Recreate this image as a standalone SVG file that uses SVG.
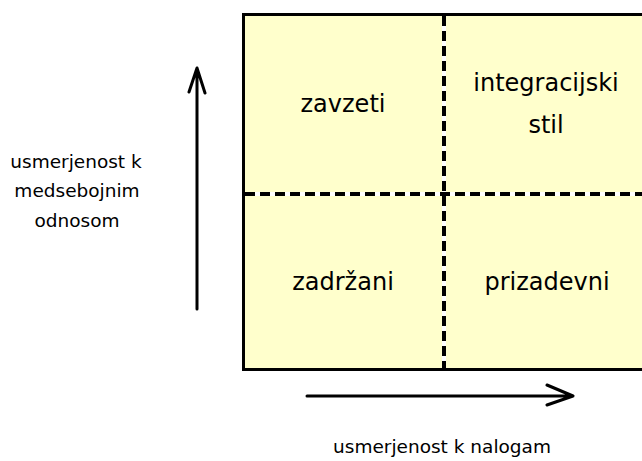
<svg xmlns="http://www.w3.org/2000/svg" width="642" height="461" viewBox="0 0 642 461">
  <style>
    .lbl { font-family: "DejaVu Sans", "Liberation Sans", sans-serif; fill: #000; text-anchor: middle; }
    .quad { font-size: 24px; }
    .side { font-size: 18.5px; }
    .axis { stroke: #000; stroke-width: 3; fill: none; stroke-linecap: round; stroke-linejoin: round; }
    .divider-bg { stroke: #fff; stroke-width: 4; }
    .divider { stroke: #000; stroke-width: 4; stroke-dasharray: 10 5; }
  </style>

  <rect width="642" height="461" fill="#fff"/>

  <!-- quadrant grid -->
  <g id="grid">
    <rect x="243.5" y="14.5" width="420" height="355" fill="#ffffcc" stroke="#000" stroke-width="3"/>
    <line class="divider-bg" x1="444" y1="16" x2="444" y2="368"/>
    <line class="divider-bg" x1="245" y1="194" x2="642" y2="194"/>
    <line class="divider" x1="444" y1="16" x2="444" y2="368"/>
    <line class="divider" x1="245" y1="194" x2="642" y2="194"/>
  </g>

  <g id="q-zavzeti">
    <text class="lbl quad" x="343" y="112">zavzeti</text>
  </g>
  <g id="q-integracijski">
    <text class="lbl quad" x="546" y="91">integracijski</text>
    <text class="lbl quad" x="546" y="133">stil</text>
  </g>
  <g id="q-zadrzani">
    <text class="lbl quad" x="343" y="290">zadržani</text>
  </g>
  <g id="q-prizadevni">
    <text class="lbl quad" x="547" y="290">prizadevni</text>
  </g>

  <!-- axis arrows -->
  <g id="connectors">
    <path class="axis" d="M197 309 V68 M189 92 L197 68 L205 93"/>
    <path class="axis" d="M307 396 H573 M547 385 L573 396 L547 405"/>
  </g>

  <g id="label-y">
    <text class="lbl side" x="76" y="168">usmerjenost k</text>
    <text class="lbl side" x="77" y="197">medsebojnim</text>
    <text class="lbl side" x="77" y="227">odnosom</text>
  </g>
  <g id="label-x">
    <text class="lbl side" x="442" y="453">usmerjenost k nalogam</text>
  </g>
</svg>
